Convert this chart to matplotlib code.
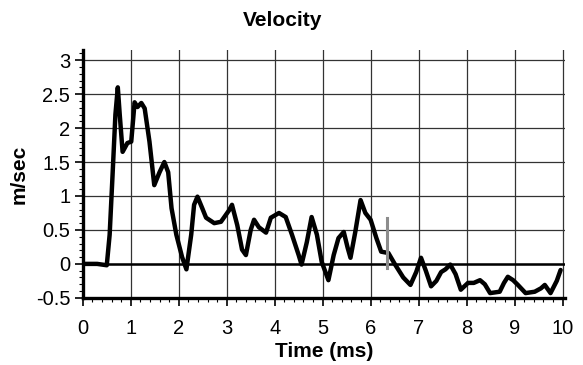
import matplotlib
matplotlib.use('agg')
import matplotlib.pyplot as plt
from matplotlib.ticker import MultipleLocator

# velocity trace (time in ms, velocity in m/sec)
time_ms = [0.0, 0.3, 0.5, 0.56, 0.62, 0.68, 0.73, 0.77, 0.83, 0.93, 1.01, 1.08, 1.14, 1.22,
           1.29, 1.39, 1.49, 1.6, 1.7, 1.78, 1.85, 1.95, 2.07, 2.16, 2.26, 2.32, 2.39, 2.49,
           2.57, 2.74, 2.88, 3.05, 3.11, 3.22, 3.32, 3.4, 3.5, 3.57, 3.67, 3.82, 3.92, 4.09,
           4.23, 4.36, 4.5, 4.56, 4.67, 4.77, 4.88, 4.98, 5.12, 5.23, 5.33, 5.44, 5.52, 5.58,
           5.68, 5.79, 5.89, 6.0, 6.12, 6.22, 6.37, 6.51, 6.68, 6.83, 6.95, 7.05, 7.15, 7.26,
           7.37, 7.47, 7.56, 7.66, 7.77, 7.88, 8.03, 8.15, 8.28, 8.38, 8.49, 8.69, 8.78, 8.86,
           8.97, 9.07, 9.23, 9.42, 9.55, 9.63, 9.75, 9.88, 9.96]
velocity = [0.0, 0.0, -0.02, 0.43, 1.3, 2.2, 2.6, 2.2, 1.65, 1.78, 1.8, 2.38, 2.31, 2.37,
            2.29, 1.8, 1.16, 1.35, 1.5, 1.35, 0.82, 0.43, 0.1, -0.08, 0.43, 0.87, 0.99, 0.82,
            0.68, 0.6, 0.62, 0.79, 0.87, 0.57, 0.21, 0.13, 0.5, 0.65, 0.54, 0.46, 0.68, 0.75,
            0.69, 0.43, 0.13, -0.01, 0.32, 0.69, 0.43, 0.03, -0.24, 0.13, 0.38, 0.47, 0.24, 0.09,
            0.47, 0.94, 0.75, 0.65, 0.38, 0.18, 0.16, -0.01, -0.2, -0.31, -0.12, 0.09, -0.1, -0.33,
            -0.25, -0.12, -0.08, -0.01, -0.15, -0.38, -0.28, -0.28, -0.24, -0.3, -0.43, -0.41, -0.28, -0.19,
            -0.24, -0.31, -0.43, -0.41, -0.36, -0.31, -0.43, -0.25, -0.09]

marker_t = 6.35          # grey marker bar
marker_lo, marker_hi = -0.06, 0.68

xticks = list(range(0, 11))
yticks = [-0.5, 0, 0.5, 1, 1.5, 2, 2.5, 3]
ytick_labels = ['-0.5', '0', '0.5', '1', '1.5', '2', '2.5', '3']

plt.rcParams['font.family'] = ['Liberation Sans', 'DejaVu Sans']

fig = plt.figure(figsize=(5.83, 3.65), dpi=100)
ax = fig.add_axes([0.142, 0.184, 0.827, 0.679])

ax.set_xlim(0, 10.05)
ax.set_ylim(-0.5, 3.15)

for t in xticks[1:]:
    ax.axvline(t, color='#333333', lw=0.9, zorder=1)
for v in yticks[1:]:
    ax.axhline(v, color='#333333', lw=0.9, zorder=1)
ax.axhline(0, color='black', lw=1.8, zorder=2)

ax.plot(time_ms, velocity, color='black', lw=3.2, solid_joinstyle='round',
        solid_capstyle='round', zorder=4)
ax.plot([marker_t, marker_t], [marker_lo, marker_hi], color='#8c8c8c', lw=2.2, zorder=5)

ax.set_xticks(xticks)
ax.set_yticks(yticks)
ax.set_yticklabels(ytick_labels)
ax.xaxis.set_minor_locator(MultipleLocator(0.2))
ax.yaxis.set_minor_locator(MultipleLocator(0.1))
ax.tick_params(axis='both', which='major', labelsize=14.5, length=6, width=1.2)
ax.tick_params(axis='both', which='minor', length=3, width=0.8)
ax.tick_params(axis='x', pad=9)
ax.tick_params(axis='y', pad=3)

for s in ['top', 'right']:
    ax.spines[s].set_visible(False)
ax.spines['left'].set_linewidth(2.4)
ax.spines['bottom'].set_linewidth(2.4)

ax.set_xlabel('Time (ms)', fontsize=15, fontweight='bold', labelpad=3)
ax.set_ylabel('m/sec', fontsize=15, fontweight='bold', labelpad=5)
fig.text(0.485, 0.945, 'Velocity', fontsize=15, fontweight='bold', ha='center', va='center')

fig.savefig('out.png', dpi=100)
